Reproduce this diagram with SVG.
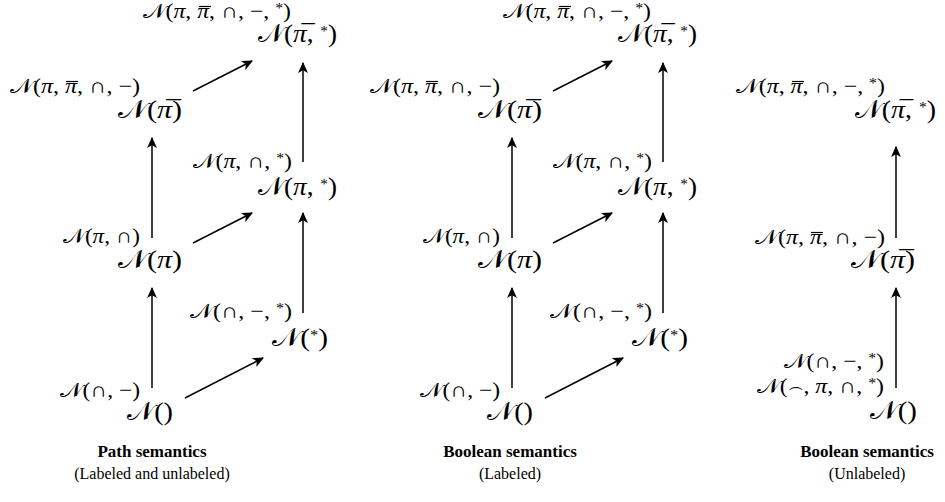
<svg xmlns="http://www.w3.org/2000/svg" width="945" height="502" viewBox="0 0 945 502">
<defs>
<marker id="ah" viewBox="0 0 10 10" refX="9" refY="5" markerWidth="11" markerHeight="11" markerUnits="userSpaceOnUse" orient="auto">
<path d="M0,0.5 L10,5 L0,9.5 L2.5,5 Z" fill="#000"/>
</marker>
<style>
text{font-family:"Liberation Serif","DejaVu Serif",serif;fill:#000}
.s{font-size:21px}
.b{font-size:25px}
.cap{font-size:17px;font-weight:bold;text-anchor:middle}
.sub{font-size:16px;text-anchor:middle}
.i{font-style:italic}
.sup{font-size:14px}
.e{stroke:#000;stroke-width:1.5;marker-end:url(#ah)}
.ov{stroke:#000;stroke-width:1.2}
</style>
</defs>
<g id="connectors">
<line class="e" x1="193" y1="91" x2="252" y2="61"/>
<line class="e" x1="193" y1="243" x2="252" y2="213"/>
<line class="e" x1="185" y1="398" x2="263" y2="358"/>
<line class="e" x1="152" y1="238" x2="152" y2="138"/>
<line class="e" x1="152" y1="388" x2="152" y2="288"/>
<line class="e" x1="303" y1="162" x2="303" y2="63"/>
<line class="e" x1="303" y1="313" x2="303" y2="213"/>
<line class="e" x1="553" y1="91" x2="612" y2="61"/>
<line class="e" x1="553" y1="243" x2="612" y2="213"/>
<line class="e" x1="545" y1="398" x2="623" y2="358"/>
<line class="e" x1="512" y1="238" x2="512" y2="138"/>
<line class="e" x1="512" y1="388" x2="512" y2="288"/>
<line class="e" x1="663" y1="162" x2="663" y2="63"/>
<line class="e" x1="663" y1="313" x2="663" y2="213"/>
<line class="e" x1="896" y1="238" x2="896" y2="147"/>
<line class="e" x1="896" y1="388" x2="896" y2="288"/>
</g>
<g id="p-top">
<text class="s" x="143" y="18" textLength="148" lengthAdjust="spacingAndGlyphs">𝒩(<tspan class="i">π</tspan>, <tspan class="i">π</tspan>, ∩, −, <tspan class="sup" dy="-5">*</tspan><tspan dy="5">)</tspan></text>
<line class="ov" x1="199" y1="6.5" x2="211" y2="6.5"/>
<text class="b" x="258" y="42" textLength="79" lengthAdjust="spacingAndGlyphs">𝒩(<tspan class="i">π̅</tspan>, <tspan class="sup" dy="-6">*</tspan><tspan dy="6">)</tspan></text>
</g>
<g id="p-pibar">
<text class="s" x="10" y="93" textLength="130" lengthAdjust="spacingAndGlyphs">𝒩(<tspan class="i">π</tspan>, <tspan class="i">π</tspan>, ∩, −)</text>
<line class="ov" x1="66" y1="81.5" x2="78" y2="81.5"/>
<text class="b" x="118" y="118" textLength="64" lengthAdjust="spacingAndGlyphs">𝒩(<tspan class="i">π̅</tspan>)</text>
</g>
<g id="p-pistar">
<text class="s" x="193" y="168" textLength="99" lengthAdjust="spacingAndGlyphs">𝒩(<tspan class="i">π</tspan>, ∩, <tspan class="sup" dy="-5">*</tspan><tspan dy="5">)</tspan></text>
<text class="b" x="258" y="195" textLength="79" lengthAdjust="spacingAndGlyphs">𝒩(<tspan class="i">π</tspan>, <tspan class="sup" dy="-6">*</tspan><tspan dy="6">)</tspan></text>
</g>
<g id="p-pi">
<text class="s" x="63" y="243" textLength="77" lengthAdjust="spacingAndGlyphs">𝒩(<tspan class="i">π</tspan>, ∩)</text>
<text class="b" x="118" y="268" textLength="64" lengthAdjust="spacingAndGlyphs">𝒩(<tspan class="i">π</tspan>)</text>
</g>
<g id="p-star">
<text class="s" x="190" y="318" textLength="102" lengthAdjust="spacingAndGlyphs">𝒩(∩, −, <tspan class="sup" dy="-5">*</tspan><tspan dy="5">)</tspan></text>
<text class="b" x="272" y="346" textLength="56" lengthAdjust="spacingAndGlyphs">𝒩(<tspan class="sup" dy="-6">*</tspan><tspan dy="6">)</tspan></text>
</g>
<g id="p-empty">
<text class="s" x="60" y="397" textLength="80" lengthAdjust="spacingAndGlyphs">𝒩(∩, −)</text>
<text class="b" x="127" y="420" textLength="46" lengthAdjust="spacingAndGlyphs">𝒩()</text>
</g>
<g id="b-top">
<text class="s" x="503" y="18" textLength="148" lengthAdjust="spacingAndGlyphs">𝒩(<tspan class="i">π</tspan>, <tspan class="i">π</tspan>, ∩, −, <tspan class="sup" dy="-5">*</tspan><tspan dy="5">)</tspan></text>
<line class="ov" x1="559" y1="6.5" x2="571" y2="6.5"/>
<text class="b" x="618" y="42" textLength="79" lengthAdjust="spacingAndGlyphs">𝒩(<tspan class="i">π̅</tspan>, <tspan class="sup" dy="-6">*</tspan><tspan dy="6">)</tspan></text>
</g>
<g id="b-pibar">
<text class="s" x="370" y="93" textLength="130" lengthAdjust="spacingAndGlyphs">𝒩(<tspan class="i">π</tspan>, <tspan class="i">π</tspan>, ∩, −)</text>
<line class="ov" x1="426" y1="81.5" x2="438" y2="81.5"/>
<text class="b" x="478" y="118" textLength="64" lengthAdjust="spacingAndGlyphs">𝒩(<tspan class="i">π̅</tspan>)</text>
</g>
<g id="b-pistar">
<text class="s" x="553" y="168" textLength="99" lengthAdjust="spacingAndGlyphs">𝒩(<tspan class="i">π</tspan>, ∩, <tspan class="sup" dy="-5">*</tspan><tspan dy="5">)</tspan></text>
<text class="b" x="618" y="195" textLength="79" lengthAdjust="spacingAndGlyphs">𝒩(<tspan class="i">π</tspan>, <tspan class="sup" dy="-6">*</tspan><tspan dy="6">)</tspan></text>
</g>
<g id="b-pi">
<text class="s" x="423" y="243" textLength="77" lengthAdjust="spacingAndGlyphs">𝒩(<tspan class="i">π</tspan>, ∩)</text>
<text class="b" x="478" y="268" textLength="64" lengthAdjust="spacingAndGlyphs">𝒩(<tspan class="i">π</tspan>)</text>
</g>
<g id="b-star">
<text class="s" x="550" y="318" textLength="102" lengthAdjust="spacingAndGlyphs">𝒩(∩, −, <tspan class="sup" dy="-5">*</tspan><tspan dy="5">)</tspan></text>
<text class="b" x="632" y="346" textLength="56" lengthAdjust="spacingAndGlyphs">𝒩(<tspan class="sup" dy="-6">*</tspan><tspan dy="6">)</tspan></text>
</g>
<g id="b-empty">
<text class="s" x="420" y="397" textLength="80" lengthAdjust="spacingAndGlyphs">𝒩(∩, −)</text>
<text class="b" x="487" y="420" textLength="46" lengthAdjust="spacingAndGlyphs">𝒩()</text>
</g>
<g id="u-top">
<text class="s" x="736" y="93" textLength="149" lengthAdjust="spacingAndGlyphs">𝒩(<tspan class="i">π</tspan>, <tspan class="i">π</tspan>, ∩, −, <tspan class="sup" dy="-5">*</tspan><tspan dy="5">)</tspan></text>
<line class="ov" x1="792" y1="81.5" x2="804" y2="81.5"/>
<text class="b" x="855" y="118" textLength="81" lengthAdjust="spacingAndGlyphs">𝒩(<tspan class="i">π̅</tspan>, <tspan class="sup" dy="-6">*</tspan><tspan dy="6">)</tspan></text>
</g>
<g id="u-pibar">
<text class="s" x="755" y="244" textLength="130" lengthAdjust="spacingAndGlyphs">𝒩(<tspan class="i">π</tspan>, <tspan class="i">π</tspan>, ∩, −)</text>
<line class="ov" x1="811" y1="232.5" x2="823" y2="232.5"/>
<text class="b" x="851" y="268" textLength="64" lengthAdjust="spacingAndGlyphs">𝒩(<tspan class="i">π̅</tspan>)</text>
</g>
<g id="u-empty">
<text class="s" x="784" y="368" textLength="100" lengthAdjust="spacingAndGlyphs">𝒩(∩, −, <tspan class="sup" dy="-5">*</tspan><tspan dy="5">)</tspan></text>
<text class="s" x="757" y="393" textLength="127" lengthAdjust="spacingAndGlyphs">𝒩(⌢, <tspan class="i">π</tspan>, ∩, <tspan class="sup" dy="-5">*</tspan><tspan dy="5">)</tspan></text>
<text class="b" x="870" y="419" textLength="47" lengthAdjust="spacingAndGlyphs">𝒩()</text>
</g>
<g id="captions">
<text class="cap" x="152" y="457">Path semantics</text>
<text class="sub" x="152" y="479">(Labeled and unlabeled)</text>
<text class="cap" x="510" y="457">Boolean semantics</text>
<text class="sub" x="510" y="479">(Labeled)</text>
<text class="cap" x="867" y="457">Boolean semantics</text>
<text class="sub" x="867" y="479">(Unlabeled)</text>
</g>
</svg>
